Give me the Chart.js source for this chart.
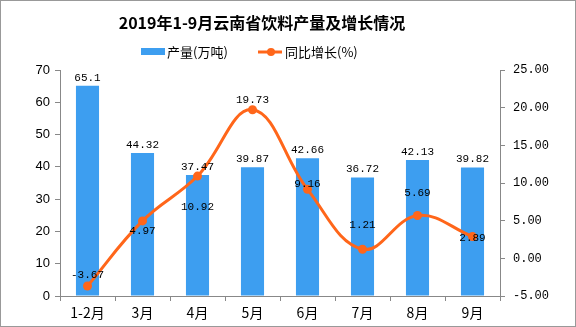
<!DOCTYPE html>
<html>
<head>
<meta charset="utf-8">
<script src="https://cdn.jsdelivr.net/npm/chart.js@4"></script>
<style>
  html, body { margin: 0; padding: 0; background: #fff; }
  #wrap { width: 576px; height: 327px; position: relative; }
</style>
</head>
<body>
<div id="wrap"><canvas id="chart" width="576" height="327"></canvas></div>
<script>
const months = ['1-2月', '3月', '4月', '5月', '6月', '7月', '8月', '9月'];
const output = [65.1, 44.32, 37.47, 39.87, 42.66, 36.72, 42.13, 39.82];
const growth = [-3.67, 4.97, 10.92, 19.73, 9.16, 1.21, 5.69, 2.89];

const titleText = '2019年1-9月云南省饮料产量及增长情况';
const blue = '#3d9ef0';
const orange = '#ff661a';
const cjk = '"Noto Sans CJK SC", sans-serif';
const mono = '"Liberation Mono", monospace';

// vertical shift of each growth label from its point (px)
const growthLabelShift = [-11, 10, 31, -10, -5, -24, -22, 2];

const decorPlugin = {
    id: 'decor',
    afterDraw(chart) {
        const c = chart.ctx;
        c.save();
        // frame
        c.strokeStyle = '#999';
        c.lineWidth = 1;
        c.strokeRect(0.5, 0.5, chart.width - 1, chart.height - 1);
        // title
        c.fillStyle = '#000';
        c.font = 'bold 16px ' + cjk;
        c.textAlign = 'center';
        c.textBaseline = 'middle';
        c.fillText(titleText, 262, 23);
        // legend
        c.font = '13px ' + cjk;
        c.textAlign = 'left';
        c.fillStyle = blue;
        c.fillRect(141, 48, 24, 7);
        c.fillStyle = '#000';
        c.fillText(chart.data.datasets[0].label, 167, 52);
        c.strokeStyle = orange;
        c.lineWidth = 3;
        c.beginPath();
        c.moveTo(258, 52);
        c.lineTo(282, 52);
        c.stroke();
        c.fillStyle = orange;
        c.beginPath();
        c.arc(271, 52, 4, 0, Math.PI * 2);
        c.fill();
        c.fillStyle = '#000';
        c.fillText(chart.data.datasets[1].label, 285, 52);
        c.restore();
    },
    afterDatasetsDraw(chart) {
        const c = chart.ctx;
        c.save();
        c.fillStyle = '#000';
        c.font = '11px ' + mono;
        c.textAlign = 'center';
        c.textBaseline = 'middle';
        chart.getDatasetMeta(0).data.forEach((bar, i) => {
            c.fillText(output[i].toString(), bar.x, bar.y - 8);
        });
        chart.getDatasetMeta(1).data.forEach((pt, i) => {
            c.fillText(growth[i].toFixed(2), pt.x, pt.y + growthLabelShift[i]);
        });
        c.restore();
    }
};

const ctx = document.getElementById('chart').getContext('2d');
new Chart(ctx, {
    type: 'bar',
    data: {
        labels: months,
        datasets: [{
            label: '产量(万吨)',
            data: output,
            backgroundColor: blue,
            yAxisID: 'y',
            categoryPercentage: 1,
            barPercentage: 0.42,
            order: 2
        }, {
            type: 'line',
            label: '同比增长(%)',
            data: growth,
            borderColor: orange,
            backgroundColor: orange,
            borderWidth: 3,
            pointRadius: 4.5,
            pointBackgroundColor: orange,
            pointBorderWidth: 0,
            tension: 0.4,
            yAxisID: 'y1',
            order: 1
        }]
    },
    options: {
        responsive: false,
        animation: false,
        layout: { padding: { top: 70, left: 0, right: 0, bottom: 0 } },
        plugins: {
            legend: { display: false },
            title: { display: false },
            tooltip: { enabled: false }
        },
        scales: {
            x: {
                grid: { drawOnChartArea: false, color: '#888', tickLength: 5, offset: true },
                border: { color: '#888' },
                ticks: { color: '#000', font: { family: cjk, size: 14 }, padding: 3 },
                afterFit(s) { s.height = 31; }
            },
            y: {
                position: 'left',
                min: 0, max: 70,
                ticks: { stepSize: 10, color: '#000', font: { family: '"Liberation Sans", sans-serif', size: 13 }, padding: 5 },
                grid: { drawOnChartArea: false, color: '#888', tickLength: 5 },
                border: { color: '#888' },
                afterFit(s) { s.width = 60; }
            },
            y1: {
                position: 'right',
                min: -5, max: 25,
                ticks: { stepSize: 5, color: '#000', font: { family: mono, size: 12 }, padding: 8,
                    callback: v => v.toFixed(2) },
                grid: { drawOnChartArea: false, color: '#888', tickLength: 5 },
                border: { color: '#888' },
                afterFit(s) { s.width = 76; }
            }
        }
    },
    plugins: [decorPlugin]
});
</script>
</body>
</html>
